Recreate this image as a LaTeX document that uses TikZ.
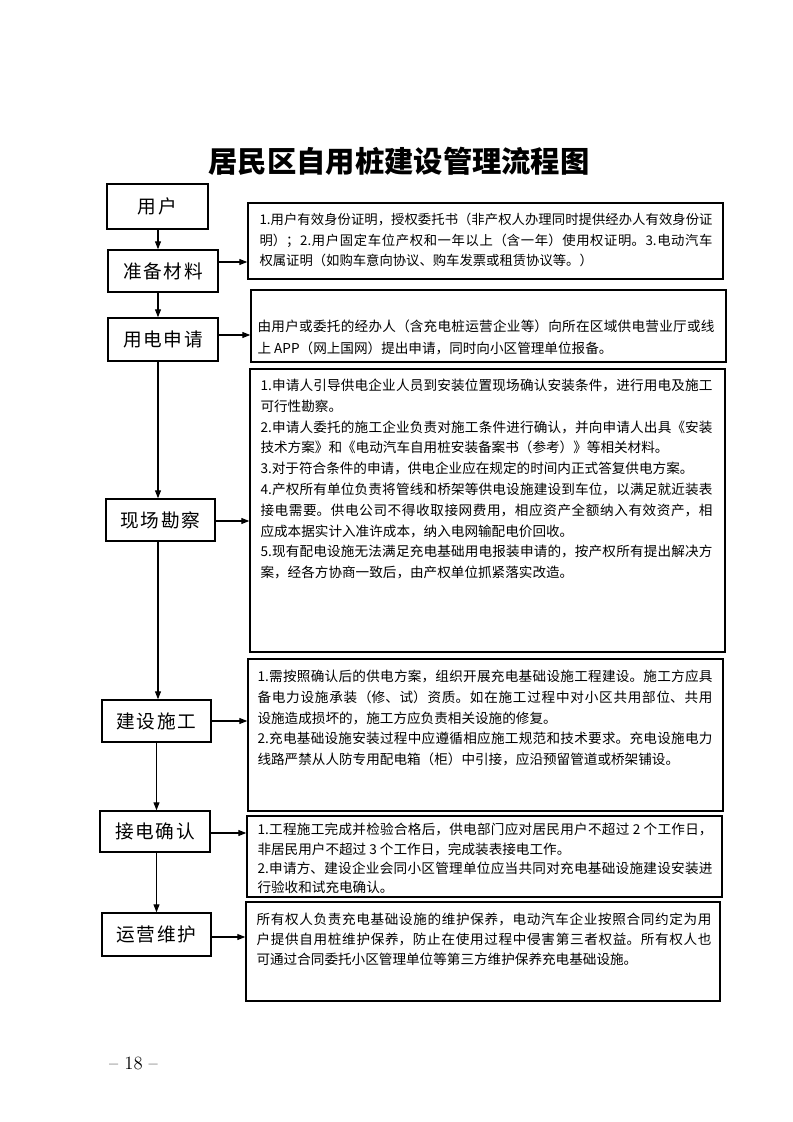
\documentclass[tikz,border=0pt]{standalone}
\usepackage{fontspec}
\usetikzlibrary{arrows.meta,calc}
\newfontfamily\cjk{Noto Sans CJK SC}
\newfontfamily\cjkw[LetterSpace=9]{Noto Sans CJK SC}
\XeTeXlinebreaklocale "zh"
\XeTeXlinebreakskip=0pt plus 1pt
\setlength{\parindent}{0pt}
\newcommand\firststrut{\rule{0pt}{11pt}}
\tikzset{
  lbox/.style={draw, line width=1.1pt, inner sep=0pt, font=\cjkw\fontsize{14}{16}\selectfont},
  rbox/.style={draw, line width=1.1pt, inner sep=0pt},
  rtext/.style={anchor=north west, inner sep=0pt, align=justify},
  arr/.style={line width=0.8pt, -{Triangle[length=6pt,width=4.5pt]}},
}
\begin{document}
\begin{tikzpicture}[x=0.75pt,y=-0.75pt]
\fill[white] (0,0) rectangle (793,1122);
\useasboundingbox (0,0) rectangle (793,1122);

\node[font=\cjk\bfseries\fontsize{22}{26}\selectfont] (title) at (399,161) {居民区自用桩建设管理流程图};

% left column
\node[lbox, minimum width=75.75pt, minimum height=33.75pt] (m1) at (157.5,206.5) {用户};
\node[lbox, minimum width=82.5pt, minimum height=31.5pt] (m2) at (163,271) {准备材料};
\node[lbox, minimum width=82.5pt, minimum height=32.25pt] (m3) at (163,339.5) {用电申请};
\node[lbox, minimum width=81.75pt, minimum height=31.5pt] (m4) at (160.5,520) {现场勘察};
\node[lbox, minimum width=81.75pt, minimum height=31.5pt] (m5) at (156.5,721) {建设施工};
\node[lbox, minimum width=82.5pt, minimum height=30.75pt] (m6) at (155,831.5) {接电确认};
\node[lbox, minimum width=81.75pt, minimum height=32.25pt] (m7) at (156.5,934.5) {运营维护};

% right boxes
\node[rbox, minimum width=356.25pt, minimum height=57pt] (b1) at (485.5,241) {};
\node[rbox, minimum width=356.25pt, minimum height=54pt] (b2) at (488.5,326) {};
\node[rbox, minimum width=356.25pt, minimum height=212.25pt] (b3) at (487.5,510.5) {};
\node[rbox, minimum width=356.25pt, minimum height=114pt] (b4) at (485.5,735) {};
\node[rbox, minimum width=356.25pt, minimum height=60.75pt] (b5) at (484.5,856.5) {};
\node[rbox, minimum width=355.5pt, minimum height=74.25pt] (b6) at (483,951.5) {};

% texts
\node[rtext, text width=339.75pt, font=\cjk\fontsize{10}{15.4}\selectfont] (t1) at ($(b1.north west)+(12,7.4)$) {\firststrut 1.用户有效身份证明，授权委托书（非产权人办理同时提供经办人有效身份证\linebreak 明）；2.用户固定车位产权和一年以上（含一年）使用权证明。3.电动汽车\linebreak 权属证明（如购车意向协议、购车发票或租赁协议等。）};

\node[rtext, text width=342.75pt, font=\cjk\fontsize{10.2}{16.5}\selectfont] (t2) at ($(b2.north west)+(7,27.5)$) {\firststrut 由用户或委托的经办人（含充电桩运营企业等）向所在区域供电营业厅或线\linebreak 上 APP（网上国网）提出申请，同时向小区管理单位报备。};

\node[rtext, text width=339pt, font=\cjk\fontsize{10.2}{15.6}\selectfont] (t3) at ($(b3.north west)+(11,7.2)$) {\firststrut 1.申请人引导供电企业人员到安装位置现场确认安装条件，进行用电及施工\linebreak 可行性勘察。\par
2.申请人委托的施工企业负责对施工条件进行确认，并向申请人出具《安装\linebreak 技术方案》和《电动汽车自用桩安装备案书（参考）》等相关材料。\par
3.对于符合条件的申请，供电企业应在规定的时间内正式答复供电方案。\par
4.产权所有单位负责将管线和桥架等供电设施建设到车位，以满足就近装表\linebreak 接电需要。供电公司不得收取接网费用，相应资产全额纳入有效资产，相\linebreak 应成本据实计入准许成本，纳入电网输配电价回收。\par
5.现有配电设施无法满足充电基础用电报装申请的，按产权所有提出解决方\linebreak 案，经各方协商一致后，由产权单位抓紧落实改造。};

\node[rtext, text width=341.25pt, font=\cjk\fontsize{10.2}{15.5}\selectfont] (t4) at ($(b4.north west)+(10,8.5)$) {\firststrut 1.需按照确认后的供电方案，组织开展充电基础设施工程建设。施工方应具\linebreak 备电力设施承装（修、试）资质。如在施工过程中对小区共用部位、共用\linebreak 设施造成损坏的，施工方应负责相关设施的修复。\par
2.充电基础设施安装过程中应遵循相应施工规范和技术要求。充电设施电力\linebreak 线路严禁从人防专用配电箱（柜）中引接，应沿预留管道或桥架铺设。};

\node[rtext, text width=341.25pt, font=\cjk\fontsize{10.2}{14.5}\selectfont] (t5) at ($(b5.north west)+(11,4.5)$) {\firststrut 1.工程施工完成并检验合格后，供电部门应对居民用户不超过 2 个工作日，\linebreak 非居民用户不超过 3 个工作日，完成装表接电工作。\par
2.申请方、建设企业会同小区管理单位应当共同对充电基础设施建设安装进\linebreak 行验收和试充电确认。};

\node[rtext, text width=341.25pt, font=\cjk\fontsize{10.2}{15}\selectfont] (t6) at ($(b6.north west)+(11,8.5)$) {\firststrut 所有权人负责充电基础设施的维护保养，电动汽车企业按照合同约定为用\linebreak 户提供自用桩维护保养，防止在使用过程中侵害第三者权益。所有权人也\linebreak 可通过合同委托小区管理单位等第三方维护保养充电基础设施。};

% vertical connectors
\coordinate (sp) at (158,0);
\draw[arr] (m1.south -| sp) -- (m2.north -| sp);
\draw[arr] (m2.south -| sp) -- (m3.north -| sp);
\draw[arr] (m3.south -| sp) -- (m4.north -| sp);
\draw[arr] (m4.south -| sp) -- (m5.north -| sp);
\draw[arr] (m5.south) -- (m5.south |- m6.north);
\draw[arr] (m6.south -| m7.north) -- (m7.north);

% horizontal connectors
\coordinate (y2) at (0,262);
\coordinate (y3) at (0,335);
\coordinate (y4) at (0,521);
\coordinate (y5) at (0,721);
\coordinate (y6) at (0,833);
\coordinate (y7) at (0,937);
\draw[arr] (m2.east |- y2) -- (b1.west |- y2);
\draw[arr] (m3.east |- y3) -- (b2.west |- y3);
\draw[arr] (m4.east |- y4) -- (b3.west |- y4);
\draw[arr] (m5.east |- y5) -- (b4.west |- y5);
\draw[arr] (m6.east |- y6) -- (b5.west |- y6);
\draw[arr] (m7.east |- y7) -- (b6.west |- y7);

\node[font=\fontsize{14}{16}\selectfont] (pg) at (133.5,1063) {\textendash\ 18 \textendash};
\end{tikzpicture}
\end{document}
